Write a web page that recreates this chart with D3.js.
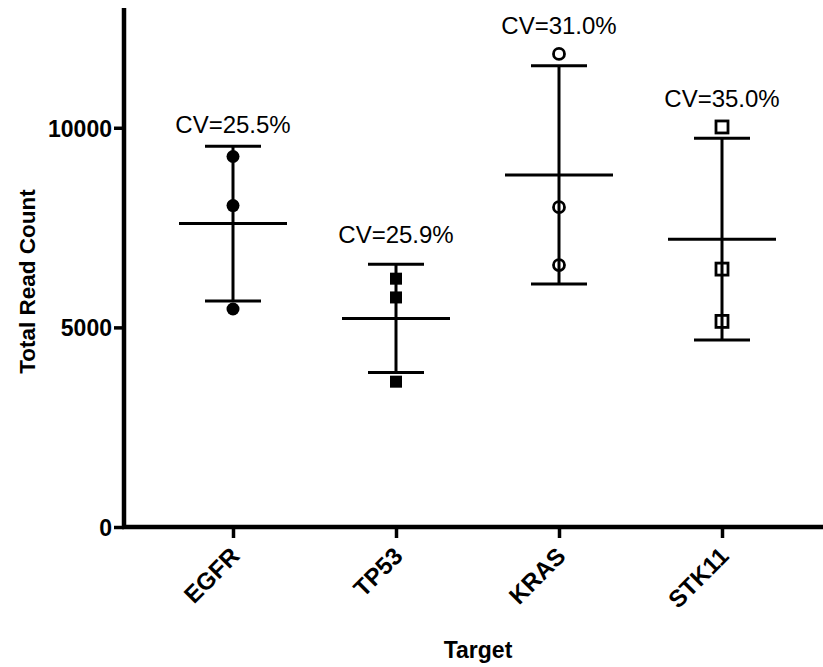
<!DOCTYPE html>
<html>

<head>
	<meta charset='utf-8'>
	<title>Total Read Count</title>
	<script type='text/javascript' src='https://cdn.jsdelivr.net/npm/d3@7'></script>
	<style>
		body { margin: 0; background: #fff; }
		text { font-family: Arial, 'Liberation Sans', Helvetica, sans-serif; }
	</style>
</head>

<body>
	<svg width='823' height='667'></svg>
	<script>
		// 数据
		const targets = ['EGFR', 'TP53', 'KRAS', 'STK11']
		const readsEGFR = [9280, 8050, 5460]
		const readsTP53 = [6220, 5750, 3640]
		const readsKRAS = [11850, 8010, 6560]
		const readsSTK11 = [10020, 6460, 5150]
		const means = [7600, 5225, 8820, 7210]
		const sds = [1940, 1355, 2735, 2525]
		const cvLabels = ['CV=25.5%', 'CV=25.9%', 'CV=31.0%', 'CV=35.0%']
		const yTicks = [0, 5000, 10000]

		const points = [readsEGFR, readsTP53, readsKRAS, readsSTK11]
		const shapes = ['dot', 'square', 'circle', 'box']
		const labelLift = { TP53: 8 } // 手动微调的标签高度

		const svg = d3.select('svg')
		const margin = ({ top: 8, right: 0, bottom: 140, left: 124 })
		const width = +svg.attr('width')
		const height = +svg.attr('height')

		const x = d3.scalePoint()
			.domain(targets)
			.range([233, 722])

		const y = d3.scaleLinear()
			.domain([0, 13000])
			.range([height - margin.bottom, margin.top])

		// 坐标轴
		const yAxis = d3.axisLeft(y).tickValues(yTicks).tickFormat(d3.format('d'))
			.tickSize(10).tickSizeOuter(0).tickPadding(2)
		const xAxis = d3.axisBottom(x).tickSize(11).tickSizeOuter(0).tickPadding(4)

		const gy = svg.append('g').attr('transform', `translate(${margin.left},0)`).call(yAxis)
		gy.select('.domain').attr('stroke-width', 4.5).attr('d', `M0,${y(0) + 2}V${margin.top}`)
		gy.selectAll('.tick line').attr('stroke-width', 3.5)
		gy.selectAll('.tick text')
			.attr('font-size', 23).attr('font-weight', 'bold').attr('fill', '#000')
			.attr('dy', '0.36em')

		const gx = svg.append('g').attr('transform', `translate(0,${y(0)})`).call(xAxis)
		gx.select('.domain').attr('stroke-width', 4.5).attr('d', `M${margin.left - 2},0H${width}`)
		gx.selectAll('.tick line').attr('stroke-width', 3.5)
		gx.selectAll('.tick text')
			.attr('font-size', 24).attr('font-weight', 'bold').attr('fill', '#000')
			.attr('text-anchor', 'end')
			.attr('dy', 0)
			.attr('transform', 'translate(-3,20) rotate(-45)')

		// 轴标题
		svg.append('text')
			.attr('transform', `translate(35,${y(6150)}) rotate(-90)`)
			.attr('text-anchor', 'middle')
			.attr('font-size', 22.5).attr('font-weight', 'bold')
			.text('Total Read Count')

		svg.append('text')
			.attr('x', 478).attr('y', 658)
			.attr('text-anchor', 'middle')
			.attr('font-size', 23).attr('font-weight', 'bold')
			.text('Target')

		// 误差线 + 均值线
		const g = svg.append('g').attr('stroke', '#000').attr('stroke-width', 3).attr('fill', 'none')
		targets.forEach((t, i) => {
			const cx = x(t)
			const hi = y(means[i] + sds[i])
			const lo = y(means[i] - sds[i])
			g.append('line').attr('x1', cx).attr('x2', cx).attr('y1', hi).attr('y2', lo)
			g.append('line').attr('x1', cx - 28).attr('x2', cx + 28).attr('y1', hi).attr('y2', hi)
			g.append('line').attr('x1', cx - 28).attr('x2', cx + 28).attr('y1', lo).attr('y2', lo)
			g.append('line').attr('x1', cx - 54).attr('x2', cx + 54).attr('y1', y(means[i])).attr('y2', y(means[i]))
		})

		// 数据点
		const gp = svg.append('g')
		targets.forEach((t, i) => {
			const cx = x(t)
			points[i].forEach(v => {
				const cy = y(v)
				const s = shapes[i]
				if (s === 'dot') {
					gp.append('circle').attr('cx', cx).attr('cy', cy).attr('r', 6.5).attr('fill', '#000')
				} else if (s === 'square') {
					gp.append('rect').attr('x', cx - 6).attr('y', cy - 6).attr('width', 12).attr('height', 12).attr('fill', '#000')
				} else if (s === 'circle') {
					gp.append('circle').attr('cx', cx).attr('cy', cy).attr('r', 5.5)
						.attr('fill', 'none').attr('stroke', '#000').attr('stroke-width', 2.8)
				} else {
					gp.append('rect').attr('x', cx - 6).attr('y', cy - 6).attr('width', 12).attr('height', 12)
						.attr('fill', 'none').attr('stroke', '#000').attr('stroke-width', 2.8)
				}
			})
		})

		// CV 标注
		targets.forEach((t, i) => {
			const top = Math.min(y(means[i] + sds[i]), y(d3.max(points[i])) - 7)
			svg.append('text')
				.attr('x', x(t)).attr('y', top - 13 - (labelLift[t] || 0))
				.attr('text-anchor', 'middle')
				.attr('font-size', 24)
				.attr('fill', '#000')
				.text(cvLabels[i])
		})
	</script>
</body>

</html>
